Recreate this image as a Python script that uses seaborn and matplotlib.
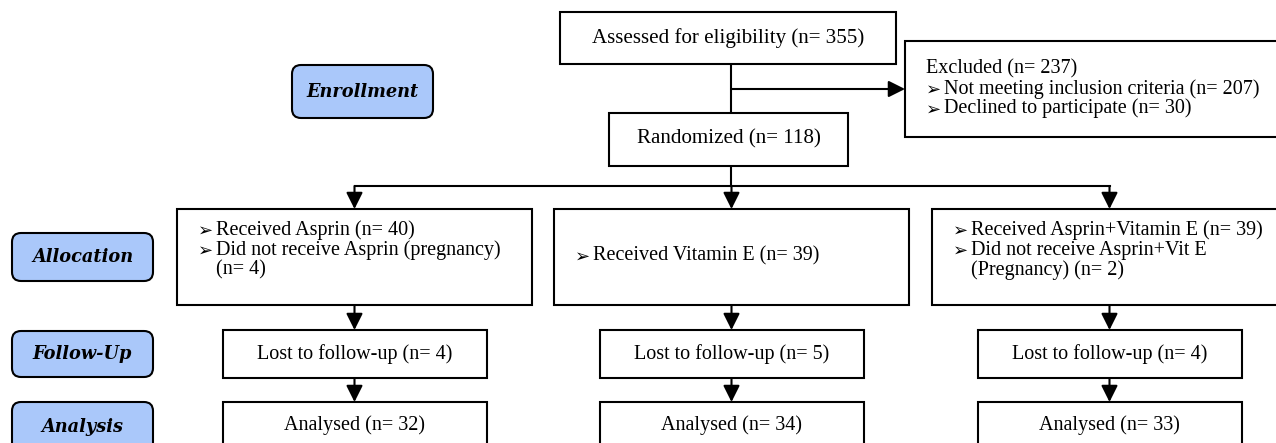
import matplotlib
matplotlib.use("Agg")
import matplotlib.pyplot as plt
import seaborn as sns
from matplotlib.patches import Rectangle, FancyBboxPatch, FancyArrowPatch

# ---------------- data ----------------
assessed_n = 355
excluded_n = 237
excluded_reasons = ["Not meeting inclusion criteria", "Declined to participate"]
excluded_counts = [207, 30]
randomized_n = 118
stage_labels = ["Enrollment", "Allocation", "Follow-Up", "Analysis"]
groups = ["Asprin", "Vitamin E", "Asprin+Vitamin E"]
received_counts = [40, 39, 39]
not_received_lines = [["Did not receive Asprin (pregnancy)", "(n= 4)"],
                      [],
                      ["Did not receive Asprin+Vit E", "(Pregnancy) (n= 2)"]]
lost_counts = [4, 5, 4]
analysed_counts = [32, 34, 33]

# ---------------- style ----------------
sns.set_theme(style="white")
plt.rcParams["font.family"] = ["Liberation Serif", "DejaVu Sans"]
plt.rcParams["text.color"] = "black"

W, H = 1276, 443
fig = plt.figure(figsize=(W / 100, H / 100), dpi=100)
ax = fig.add_axes([0, 0, 1, 1])
ax.set_xlim(0, W)
ax.set_ylim(H, 0)
ax.axis("off")

LW = 1.5
FS = 14.5
FS_TOP = 15.1
BULLET = "\u27a2"
LABEL_FILL = "#aac8fa"


def box(x0, y0, x1, y1):
    ax.add_patch(Rectangle((x0, y0), x1 - x0, y1 - y0, facecolor="white",
                           edgecolor="black", lw=LW, zorder=2))


def label(x0, y0, x1, y1, txt, ty=None):
    ax.add_patch(FancyBboxPatch((x0, y0), x1 - x0, y1 - y0,
                                boxstyle="round,pad=0,rounding_size=9",
                                facecolor=LABEL_FILL, edgecolor="black",
                                lw=LW, zorder=2))
    ax.text((x0 + x1) / 2, (y0 + y1) / 2 if ty is None else ty, txt,
            ha="center", va="center", color="black",
            family="DejaVu Serif", fontweight="bold", fontstyle="italic",
            fontsize=12.8, zorder=3)


def line(xs, ys):
    ax.plot(xs, ys, color="black", lw=LW, solid_capstyle="projecting", zorder=1)


def arrow(p0, p1):
    ax.add_patch(FancyArrowPatch(p0, p1,
                                 arrowstyle="-|>,head_length=10,head_width=5",
                                 mutation_scale=1, lw=LW, color="black",
                                 shrinkA=0, shrinkB=0, zorder=1))


def ctext(x, y, s, fs=FS):
    ax.text(x, y, s, ha="center", va="center", fontsize=fs, color="black",
            zorder=3)


def bullet_line(x, y, s, bullet=True):
    if bullet:
        ax.text(x, y + 1, BULLET, ha="left", va="center", fontsize=FS - 1.5,
                family="DejaVu Sans", color="black", zorder=3)
    ax.text(x + 18, y, s, ha="left", va="center", fontsize=FS, color="black",
            zorder=3)


# ---------------- enrollment ----------------
label(292, 65, 433, 118, stage_labels[0])

box(560, 12, 896, 64)
ctext(728, 38, f"Assessed for eligibility (n= {assessed_n})", FS_TOP)

line([731, 731], [64, 113])
arrow((731, 89), (905, 89))

box(905, 41, 1300, 137)
ax.text(926, 69, f"Excluded (n= {excluded_n})", ha="left", va="center",
        fontsize=FS, color="black", zorder=3)
for i, (r, c) in enumerate(zip(excluded_reasons, excluded_counts)):
    bullet_line(926, 89 + 19.5 * i, f"{r} (n= {c})")

box(609, 113, 848, 166)
ctext(729, 139, f"Randomized (n= {randomized_n})", FS_TOP)

# ---------------- allocation ----------------
alloc_x0 = [177, 554, 932]
alloc_w = 355
centers = [x + alloc_w / 2 for x in alloc_x0]

line([731, 731], [166, 186])
line([centers[0], centers[-1]], [186, 186])
for cx in centers:
    arrow((cx, 186), (cx, 209))

label(12, 233, 153, 281, stage_labels[1])
for i, x0 in enumerate(alloc_x0):
    box(x0, 209, x0 + alloc_w, 305)
    lines = [(True, f"Received {groups[i]} (n= {received_counts[i]})")]
    extra = not_received_lines[i]
    if extra:
        lines.append((True, extra[0]))
        lines.append((False, extra[1]))
    n = len(lines)
    if n == 1:
        ys = [256]
    else:
        ys = [230 + 20 * k for k in range(n)]
    for (b, s), y in zip(lines, ys):
        bullet_line(x0 + 21, y, s, bullet=b)

# ---------------- follow-up & analysis ----------------
fw = 264
label(12, 331, 153, 377, stage_labels[2])
label(12, 402, 153, 456, stage_labels[3], ty=427)
for i, cx in enumerate(centers):
    arrow((cx, 305), (cx, 330))
    box(cx - fw / 2, 330, cx + fw / 2, 378)
    ctext(cx, 354, f"Lost to follow-up (n= {lost_counts[i]})")
    arrow((cx, 378), (cx, 402))
    box(cx - fw / 2, 402, cx + fw / 2, 470)
    ctext(cx, 425, f"Analysed (n= {analysed_counts[i]})")

fig.savefig("out.png", dpi=100, facecolor="white")
